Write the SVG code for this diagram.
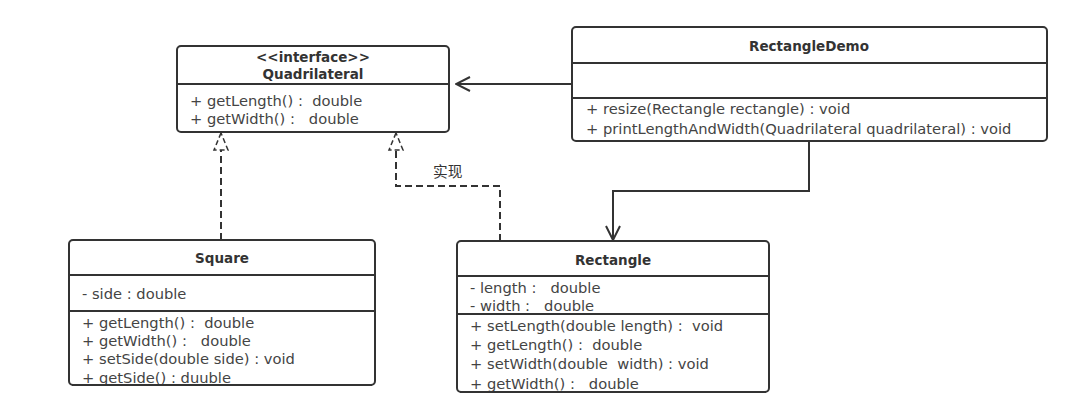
<svg xmlns="http://www.w3.org/2000/svg" width="1088" height="406" viewBox="0 0 1088 406" xml:space="preserve">
<style>
.box{fill:#fff;stroke:#333;stroke-width:2}
.div{stroke:#333;stroke-width:2}
text{font-family:"DejaVu Sans","Noto Sans CJK SC",sans-serif;font-size:14.7px;fill:#333;white-space:pre}
.t{font-weight:bold;text-anchor:middle;font-size:13.5px}
.m{fill:#444}
.dash{fill:none;stroke:#333;stroke-width:2;stroke-dasharray:7,4}
.solid{fill:none;stroke:#333;stroke-width:2}
.tri{fill:#fff;stroke:#333;stroke-width:1.5;stroke-dasharray:5,3}
</style>
<defs>
<marker id="open" viewBox="0 0 16 16" refX="15" refY="8" markerWidth="16" markerHeight="16" markerUnits="userSpaceOnUse" orient="auto">
<path d="M1,1 L15,8 L1,15" fill="none" stroke="#333" stroke-width="2"/>
</marker>
</defs>
<rect width="1088" height="406" fill="#fff"/>
<g id="connectors">
<path class="dash" d="M221,240 V150"/>
<polygon class="tri" points="221,133 214,150 228,150"/>
<path class="dash" d="M500,241 V186 H396 V150"/>
<polygon class="tri" points="396,133 389,150 403,150"/>
<text x="433" y="177" font-size="13">实现</text>
<path class="solid" d="M572,84 H456" marker-end="url(#open)"/>
<path class="solid" d="M809,141 V191 H613 V240" marker-end="url(#open)"/>
</g>
<g id="Quadrilateral">
<rect class="box" x="177" y="46" width="272" height="86" rx="4"/>
<line class="div" x1="177" y1="84" x2="449" y2="84"/>
<text class="t" x="313" y="62">&lt;&lt;interface&gt;&gt;</text>
<text class="t" x="313" y="79">Quadrilateral</text>
<text class="m" x="190" y="106">+ getLength() :  double</text>
<text class="m" x="190" y="124">+ getWidth() :   double</text>
</g>
<g id="RectangleDemo">
<rect class="box" x="572" y="27" width="475" height="114" rx="4"/>
<line class="div" x1="572" y1="63" x2="1047" y2="63"/>
<line class="div" x1="572" y1="98" x2="1047" y2="98"/>
<text class="t" x="809" y="51">RectangleDemo</text>
<text class="m" x="586" y="114">+ resize(Rectangle rectangle) : void</text>
<text class="m" x="586" y="134">+ printLengthAndWidth(Quadrilateral quadrilateral) : void</text>
</g>
<g id="Square">
<rect class="box" x="69" y="240" width="306" height="145" rx="4"/>
<line class="div" x1="69" y1="275" x2="375" y2="275"/>
<line class="div" x1="69" y1="311" x2="375" y2="311"/>
<text class="t" x="222" y="263">Square</text>
<text class="m" x="82" y="299">- side : double</text>
<text class="m" x="82" y="328">+ getLength() :  double</text>
<text class="m" x="82" y="346">+ getWidth() :   double</text>
<text class="m" x="82" y="364">+ setSide(double side) : void</text>
<text class="m" x="82" y="383">+ getSide() : duuble</text>
<line class="div" x1="72" y1="385" x2="372" y2="385"/>
</g>
<g id="Rectangle">
<rect class="box" x="457" y="241" width="312" height="151" rx="4"/>
<line class="div" x1="457" y1="276" x2="769" y2="276"/>
<line class="div" x1="457" y1="314" x2="769" y2="314"/>
<text class="t" x="613" y="265">Rectangle</text>
<text class="m" x="470" y="293">- length :   double</text>
<text class="m" x="470" y="311">- width :   double</text>
<text class="m" x="470" y="331">+ setLength(double length) :  void</text>
<text class="m" x="470" y="350">+ getLength() :  double</text>
<text class="m" x="470" y="369">+ setWidth(double  width) : void</text>
<text class="m" x="470" y="389">+ getWidth() :   double</text>
<line class="div" x1="460" y1="392" x2="766" y2="392"/>
</g>
</svg>
